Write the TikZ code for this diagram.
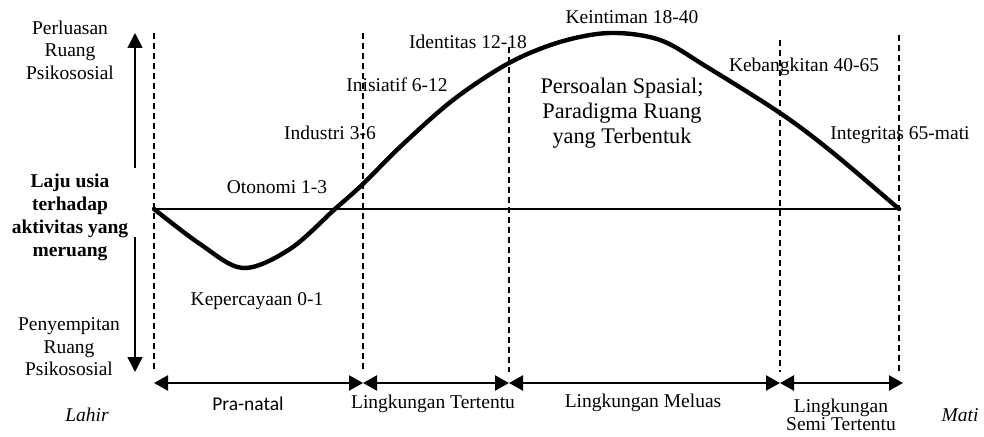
\documentclass[tikz,border=0pt]{standalone}
\usepackage{fontspec}
\setmainfont{Liberation Serif}
\newfontfamily\calibrifont{Carlito}
\usetikzlibrary{arrows.meta}

\begin{document}
\begin{tikzpicture}[
  x=1pt, y=-1pt,
  font=\fontsize{19.5}{22.5}\selectfont,
  stage/.style={inner sep=0pt, align=center},
  guide/.style={dash pattern=on 6pt off 4pt, line width=1.8pt},
  span/.style={{Triangle[length=14pt,width=15pt]}-{Triangle[length=14pt,width=15pt]}, line width=2.2pt},
  axisarrow/.style={-{Triangle[length=15pt,width=15pt]}, line width=1.6pt},
  lifecurve/.style={line width=4.4pt, line join=round, line cap=round},
]
\useasboundingbox (0,0) rectangle (984,436);

% Guide lines between the age stages.
\coordinate (g1t) at (154,33);  \coordinate (g1b) at (154,372);
\coordinate (g2t) at (363,33);  \coordinate (g2b) at (363,372);
\coordinate (g3t) at (509,47);  \coordinate (g3b) at (509,372);
\coordinate (g4t) at (780,40);  \coordinate (g4b) at (780,372);
\coordinate (g5t) at (899,35);  \coordinate (g5b) at (899,372);
\draw[guide] (g1t) -- (g1b);
\draw[guide] (g2t) -- (g2b);
\draw[guide] (g3t) -- (g3b);
\draw[guide] (g4t) -- (g4b);
\draw[guide] (g5t) -- (g5b);

% Base line and the curve of psychosocial space.
\coordinate (birth) at (154,209);
\coordinate (death) at (899,209);
\draw[line width=1.8pt] (birth) -- (death);
\draw[lifecurve] plot[smooth, tension=0.55] coordinates {
  (154,209) (200,244) (243,268) (290,249) (335,209) (363,184)
  (400,147) (453,100) (509,63) (560,42) (610,33) (660,40)
  (707,67) (780,113) (832,152) (899,209)};

% Left axis: widening and narrowing.
\node[stage] (wide) at (70,50) {Perluasan\\Ruang\\Psikososial};
\node[stage, font=\fontsize{19.5}{23}\selectfont\bfseries] (pace) at (70,217)
  {Laju usia\\terhadap\\aktivitas yang\\meruang};
\node[stage] (narrow) at (69,347) {Penyempitan\\Ruang\\Psikososial};
\coordinate (upfrom) at (135,168);  \coordinate (upto) at (135,33);
\coordinate (downfrom) at (135,237); \coordinate (downto) at (135,372);
\draw[axisarrow] (upfrom) -- (upto);
\draw[axisarrow] (downfrom) -- (downto);

% Stage labels along the curve.
\node[stage] (trust) at (257,301) {Kepercayaan 0-1};
\node[stage] (auto) at (277,187) {Otonomi 1-3};
\node[stage] (indus) at (330,133) {Industri 3-6};
\node[stage] (init) at (397,85) {Inisiatif 6-12};
\node[stage] (ident) at (468,42) {Identitas 12-18};
\node[stage] (intim) at (632,17) {Keintiman 18-40};
\node[stage] (gener) at (804,67) {Kebangkitan 40-65};
\node[stage] (integ) at (900,135) {Integritas 65-mati};
\node[stage, font=\fontsize{22.3}{25}\selectfont] (spatial) at (622,113)
  {Persoalan Spasial;\\Paradigma Ruang\\yang Terbentuk};

% Environment spans at the bottom.
\coordinate (s1) at (154,383);
\coordinate (s2) at (363,383);
\coordinate (s3) at (509,383);
\coordinate (s4) at (780,383);
\coordinate (s5) at (903,383);
\draw[span] (s1) -- (s2);
\draw[span] (s2) -- (s3);
\draw[span] (s3) -- (s4);
\draw[span] (s4) -- (s5);
\node[stage, font=\fontsize{19.5}{22.5}\calibrifont] (prenatal) at (248,404) {Pra-natal};
\node[stage] (certain) at (433,404) {Lingkungan Tertentu};
\node[stage] (wider) at (643,403) {Lingkungan Meluas};
\node[stage, font=\fontsize{19.5}{18}\selectfont] (semi) at (841,415) {Lingkungan\\Semi Tertentu};
\node[stage, font=\fontsize{19.5}{22.5}\itshape] (born) at (87,415) {Lahir};
\node[stage, font=\fontsize{19.5}{22.5}\itshape] (dies) at (960,415) {Mati};

\end{tikzpicture}
\end{document}
